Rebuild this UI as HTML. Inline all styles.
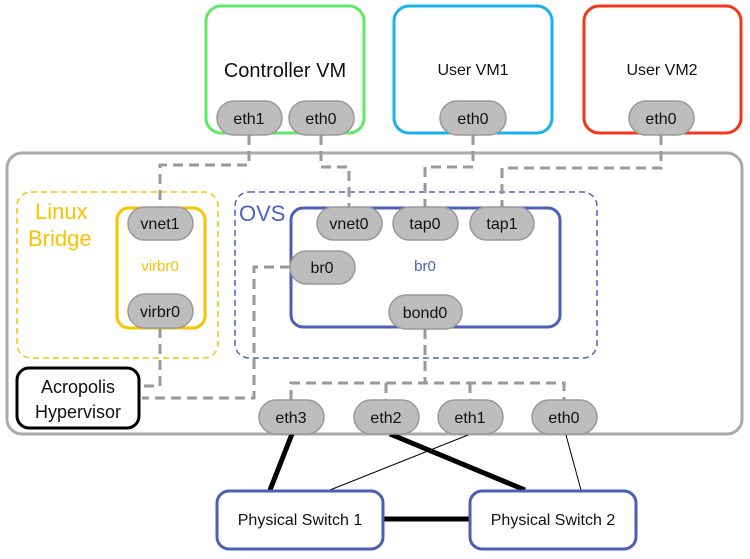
<!DOCTYPE html>
<html><head><meta charset="utf-8"><style>body{margin:0;background:#fff}svg{display:block}text{font-family:"Liberation Sans",sans-serif}</style></head>
<body>
<svg width="750" height="559" viewBox="0 0 750 559" xmlns="http://www.w3.org/2000/svg">
<rect x="0" y="0" width="750" height="559" fill="#fff"/>
<rect x="7" y="153" width="735" height="281" rx="15" fill="#fff" stroke="#aaa" stroke-width="3"/>
<rect x="206" y="6" width="158" height="127" rx="15" fill="#fff" stroke="#5de86a" stroke-width="3"/>
<rect x="394" y="6" width="158" height="127" rx="15" fill="#fff" stroke="#17b3ea" stroke-width="3"/>
<rect x="584" y="6" width="157" height="127" rx="15" fill="#fff" stroke="#f3351a" stroke-width="3"/>
<text x="285" y="77" font-size="20" text-anchor="middle" fill="#111">Controller VM</text>
<text x="473" y="75" font-size="16" text-anchor="middle" fill="#111">User VM1</text>
<text x="662" y="75" font-size="16" text-anchor="middle" fill="#111">User VM2</text>
<rect x="17" y="192" width="201" height="166" rx="14" fill="none" stroke="#f9c300" stroke-width="1.5" stroke-dasharray="6 4"/>
<text x="35" y="219" font-size="22" fill="#f9c300">Linux</text>
<text x="28" y="246" font-size="22" fill="#f9c300">Bridge</text>
<rect x="117" y="208" width="88" height="120" rx="12" fill="none" stroke="#f9c300" stroke-width="3"/>
<text x="160" y="271" font-size="15" text-anchor="middle" fill="#f9c300">virbr0</text>
<rect x="235" y="192" width="362" height="166" rx="14" fill="none" stroke="#4a62c0" stroke-width="1.5" stroke-dasharray="6 4"/>
<text x="239" y="221" font-size="22" fill="#4a62c0">OVS</text>
<rect x="291" y="208" width="269" height="119" rx="12" fill="none" stroke="#4a5fb5" stroke-width="3"/>
<text x="425" y="271" font-size="15" text-anchor="middle" fill="#4a62c0">br0</text>
<g fill="none" stroke="#999" stroke-width="3" stroke-dasharray="10 6">
<path d="M249 135 V165 H160 V207"/>
<path d="M321 135 V167 H349 V207"/>
<path d="M473 135 V167 H425 V207"/>
<path d="M661 135 V168 H502 V207"/>
<path d="M160 328 V386 H142"/>
<path d="M290 267 H254 V398 H142"/>
<path d="M425 329 V383"/>
<path d="M291 400 V383 H564 V400"/>
<path d="M386 383 V400"/>
<path d="M470 383 V400"/>
</g>
<g stroke="#000" fill="none">
<line x1="292" y1="434" x2="270" y2="490" stroke-width="5"/>
<line x1="390" y1="434" x2="525" y2="490" stroke-width="5"/>
<line x1="468" y1="435" x2="330" y2="490" stroke-width="1"/>
<line x1="566" y1="435" x2="581" y2="490" stroke-width="1"/>
<line x1="383" y1="519" x2="470" y2="519" stroke-width="5"/>
</g>
<rect x="217" y="491" width="166" height="58" rx="12" fill="#fff" stroke="#4a5fb5" stroke-width="3"/>
<rect x="470" y="491" width="166" height="58" rx="12" fill="#fff" stroke="#4a5fb5" stroke-width="3"/>
<text x="300" y="525" font-size="16" text-anchor="middle" fill="#111">Physical Switch 1</text>
<text x="553" y="525" font-size="16" text-anchor="middle" fill="#111">Physical Switch 2</text>
<rect x="17" y="368" width="122" height="60" rx="12" fill="#fff" stroke="#000" stroke-width="3"/>
<text x="78" y="393" font-size="18" text-anchor="middle" fill="#111">Acropolis</text>
<text x="78" y="418" font-size="18" text-anchor="middle" fill="#111">Hypervisor</text>
<g fill="#bdbdbd" stroke="#999" stroke-width="1.5">
<rect x="217" y="101" width="65" height="34" rx="17"/>
<rect x="289" y="101" width="65" height="34" rx="17"/>
<rect x="440" y="101" width="66" height="34" rx="17"/>
<rect x="629" y="101" width="65" height="34" rx="17"/>
<rect x="128" y="207" width="65" height="33" rx="16.5"/>
<rect x="128" y="294" width="65" height="34" rx="17"/>
<rect x="317" y="207" width="65" height="33" rx="16.5"/>
<rect x="393" y="207" width="65" height="33" rx="16.5"/>
<rect x="470" y="207" width="64" height="33" rx="16.5"/>
<rect x="290" y="251" width="65" height="33" rx="16.5"/>
<rect x="389" y="295" width="73" height="34" rx="17"/>
<rect x="259" y="400" width="65" height="34" rx="17"/>
<rect x="354" y="400" width="65" height="34" rx="17"/>
<rect x="438" y="400" width="65" height="34" rx="17"/>
<rect x="532" y="400" width="65" height="34" rx="17"/>
</g>
<g font-size="16" text-anchor="middle" fill="#111">
<text x="249" y="124">eth1</text>
<text x="321" y="124">eth0</text>
<text x="473" y="124">eth0</text>
<text x="661" y="124">eth0</text>
<text x="160" y="229">vnet1</text>
<text x="160" y="317">virbr0</text>
<text x="349" y="229">vnet0</text>
<text x="425" y="229">tap0</text>
<text x="502" y="229">tap1</text>
<text x="322" y="273">br0</text>
<text x="425" y="318">bond0</text>
<text x="291" y="423">eth3</text>
<text x="386" y="423">eth2</text>
<text x="470" y="423">eth1</text>
<text x="564" y="423">eth0</text>
</g>
</svg>
</body></html>
